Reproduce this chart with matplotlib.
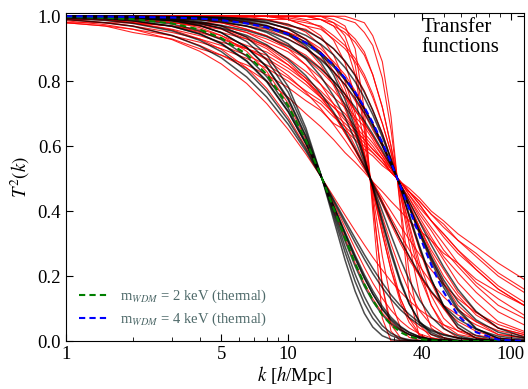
import numpy as np
import matplotlib
matplotlib.use('Agg')
import matplotlib.pyplot as plt

# 1. data: T^2(k), in units of 1/1000, on a common k grid [h/Mpc]
k_grid = [1, 1.5, 2, 3, 4, 5, 6.5, 8, 10, 12, 14, 16, 18, 20, 22, 24, 26.5, 29, 32, 35, 39, 44, 50, 58, 70, 88, 115]

wdm2 = [998, 995, 991, 978, 959, 933, 883, 821, 724, 618, 511, 409, 317, 239, 175, 126, 80, 50, 27, 14, 6, 2, 0, 0, 0, 0, 0]
wdm4 = [1000, 999, 998, 996, 993, 988, 978, 966, 945, 918, 886, 850, 810, 766, 720, 672, 611, 549, 476, 407, 323, 234, 151, 79, 27, 4, 0]

black_curves = [
    [990, 980, 969, 941, 908, 872, 813, 751, 667, 585, 507, 436, 372, 316, 266, 224, 179, 142, 108, 82, 56, 35, 20, 10, 3, 1, 0],
    [994, 987, 978, 955, 926, 891, 833, 769, 680, 592, 508, 431, 363, 303, 252, 208, 164, 129, 96, 72, 49, 31, 18, 9, 4, 1, 0],
    [996, 992, 986, 969, 945, 915, 861, 798, 705, 607, 509, 418, 336, 264, 204, 155, 107, 73, 45, 27, 13, 5, 2, 0, 0, 0, 0],
    [998, 995, 990, 976, 955, 928, 877, 814, 717, 613, 510, 413, 327, 253, 193, 145, 99, 67, 42, 26, 13, 6, 2, 1, 0, 0, 0],
    [999, 997, 995, 986, 971, 949, 905, 845, 747, 632, 512, 396, 291, 205, 137, 88, 47, 24, 10, 4, 1, 0, 0, 0, 0, 0, 0],
    [1000, 999, 997, 991, 979, 962, 922, 866, 766, 644, 513, 386, 274, 183, 116, 70, 35, 17, 6, 2, 1, 0, 0, 0, 0, 0, 0],
    [1000, 999, 998, 993, 984, 970, 935, 882, 783, 656, 514, 374, 250, 153, 85, 43, 16, 5, 1, 0, 0, 0, 0, 0, 0, 0, 0],
    [999, 998, 995, 986, 972, 950, 904, 843, 742, 628, 511, 402, 308, 230, 168, 122, 80, 53, 32, 20, 10, 5, 2, 1, 0, 0, 0],
    [997, 992, 986, 969, 946, 917, 863, 801, 707, 608, 510, 416, 331, 258, 196, 145, 97, 63, 36, 20, 8, 3, 1, 0, 0, 0, 0],
    [1000, 999, 998, 996, 991, 984, 970, 950, 915, 869, 815, 754, 688, 618, 548, 480, 399, 326, 250, 188, 126, 74, 38, 16, 4, 1, 0],
    [1000, 1000, 1000, 998, 996, 993, 985, 972, 946, 908, 859, 797, 725, 645, 560, 474, 371, 278, 185, 116, 57, 20, 5, 1, 0, 0, 0],
    [999, 997, 994, 987, 977, 964, 941, 912, 867, 817, 762, 705, 648, 591, 537, 485, 424, 369, 311, 261, 206, 153, 108, 68, 36, 15, 5],
    [1000, 1000, 1000, 999, 998, 996, 991, 982, 961, 928, 881, 819, 744, 657, 565, 472, 363, 268, 178, 114, 60, 26, 10, 3, 0, 0, 0],
    [1000, 999, 998, 996, 992, 987, 977, 963, 941, 914, 881, 844, 804, 760, 715, 667, 607, 547, 477, 411, 330, 244, 165, 93, 37, 8, 1],
    [1000, 1000, 999, 998, 997, 994, 988, 979, 963, 941, 914, 881, 842, 798, 749, 697, 628, 557, 472, 390, 292, 191, 106, 42, 8, 0, 0],
    [998, 997, 995, 989, 981, 972, 956, 937, 907, 874, 838, 800, 760, 719, 678, 637, 587, 538, 482, 429, 366, 296, 228, 159, 91, 40, 12],
    [1000, 1000, 1000, 999, 998, 997, 993, 987, 974, 956, 931, 900, 862, 817, 766, 711, 637, 561, 470, 385, 286, 189, 109, 51, 16, 3, 0],
    [999, 998, 997, 993, 988, 982, 969, 954, 929, 900, 866, 829, 789, 747, 703, 658, 601, 544, 478, 415, 338, 255, 175, 100, 39, 8, 0],
    [1000, 999, 999, 997, 994, 990, 981, 969, 947, 920, 888, 850, 808, 763, 716, 667, 606, 546, 478, 414, 339, 260, 188, 122, 65, 27, 9],
]

red_curves = [
    [986, 974, 960, 928, 892, 853, 793, 731, 651, 576, 507, 444, 388, 339, 296, 258, 218, 184, 151, 124, 96, 71, 50, 32, 18, 8, 3],
    [994, 988, 979, 958, 930, 898, 841, 778, 689, 597, 509, 426, 350, 284, 227, 179, 131, 95, 62, 40, 22, 10, 4, 1, 0, 0, 0],
    [999, 997, 993, 982, 965, 941, 892, 830, 731, 621, 511, 407, 316, 239, 177, 130, 86, 57, 34, 20, 10, 5, 2, 1, 0, 0, 0],
    [995, 990, 984, 970, 953, 933, 901, 866, 817, 766, 716, 666, 618, 572, 529, 488, 441, 399, 353, 313, 266, 219, 174, 130, 87, 51, 25],
    [998, 996, 994, 986, 975, 962, 937, 906, 860, 808, 753, 697, 641, 586, 534, 486, 430, 379, 326, 281, 230, 180, 136, 96, 59, 32, 15],
    [1000, 1000, 1000, 998, 996, 992, 983, 969, 942, 902, 850, 787, 715, 637, 556, 476, 383, 299, 217, 153, 93, 49, 23, 8, 2, 0, 0],
    [1000, 1000, 1000, 1000, 999, 998, 996, 990, 976, 951, 911, 853, 777, 684, 578, 466, 333, 218, 118, 57, 18, 4, 0, 0, 0, 0, 0],
    [1000, 1000, 1000, 1000, 1000, 1000, 1000, 999, 995, 986, 966, 926, 857, 752, 612, 451, 261, 124, 40, 11, 2, 0, 0, 0, 0, 0, 0],
    [1000, 1000, 1000, 1000, 1000, 1000, 1000, 1000, 1000, 1000, 990, 970, 920, 820, 650, 430, 170, 30, 0, 0, 0, 0, 0, 0, 0, 0, 0],
    [1000, 1000, 1000, 990, 990, 980, 960, 940, 900, 850, 790, 730, 660, 600, 540, 480, 420, 360, 300, 250, 200, 150, 110, 80, 50, 20, 10],
    [1000, 990, 990, 980, 970, 960, 930, 900, 850, 800, 750, 700, 640, 590, 540, 490, 430, 370, 310, 260, 200, 150, 100, 60, 30, 10, 0],
    [1000, 1000, 1000, 1000, 1000, 1000, 1000, 1000, 990, 970, 940, 880, 800, 700, 580, 460, 330, 220, 130, 70, 40, 20, 10, 0, 0, 0, 0],
    [1000, 1000, 1000, 1000, 1000, 1000, 1000, 1000, 1000, 1000, 1000, 980, 940, 850, 670, 430, 170, 50, 10, 0, 0, 0, 0, 0, 0, 0, 0],
    [1000, 1000, 1000, 1000, 1000, 1000, 990, 980, 960, 930, 890, 830, 760, 670, 570, 470, 350, 240, 130, 70, 20, 0, 0, 0, 0, 0, 0],
    [1000, 1000, 1000, 1000, 1000, 1000, 1000, 1000, 1000, 1000, 1000, 990, 970, 900, 710, 400, 70, 0, 0, 0, 0, 0, 0, 0, 0, 0, 0],
    [980, 970, 960, 940, 910, 880, 840, 800, 750, 700, 660, 620, 580, 550, 520, 490, 460, 430, 400, 370, 340, 310, 270, 240, 190, 150, 110],
    [980, 970, 950, 930, 900, 880, 850, 820, 780, 740, 710, 670, 650, 620, 590, 570, 540, 520, 490, 470, 440, 400, 370, 330, 290, 240, 190],
    [980, 980, 970, 940, 920, 900, 870, 840, 800, 760, 730, 690, 660, 630, 600, 580, 550, 520, 490, 460, 430, 390, 360, 310, 270, 210, 160],
    [990, 980, 970, 950, 930, 910, 880, 850, 810, 770, 740, 700, 670, 640, 610, 580, 550, 520, 490, 460, 430, 390, 350, 310, 260, 200, 150],
    [990, 990, 980, 970, 950, 930, 900, 880, 840, 800, 760, 720, 690, 650, 620, 590, 560, 520, 490, 460, 420, 370, 330, 280, 230, 170, 120],
    [990, 990, 980, 970, 960, 940, 910, 890, 850, 810, 770, 730, 700, 660, 630, 600, 560, 530, 490, 450, 410, 370, 320, 270, 220, 160, 110],
    [1000, 990, 990, 980, 970, 950, 930, 910, 870, 830, 790, 750, 720, 680, 640, 610, 570, 530, 490, 450, 400, 350, 300, 240, 180, 130, 80],
    [990, 980, 980, 960, 940, 920, 900, 870, 830, 790, 750, 720, 680, 650, 620, 590, 560, 520, 490, 460, 420, 370, 330, 280, 220, 160, 110],
    [1000, 1000, 990, 990, 980, 970, 950, 920, 890, 850, 810, 770, 730, 690, 660, 620, 570, 530, 480, 440, 390, 340, 280, 230, 170, 110, 70],
    [1000, 1000, 1000, 990, 980, 980, 960, 940, 910, 880, 840, 800, 760, 710, 670, 630, 580, 530, 480, 440, 380, 320, 260, 210, 150, 90, 50],
    [1000, 1000, 1000, 1000, 990, 980, 970, 960, 930, 900, 870, 830, 790, 740, 700, 650, 600, 540, 480, 420, 350, 280, 220, 150, 90, 40, 20],
    [1000, 1000, 1000, 1000, 990, 990, 980, 970, 950, 920, 890, 850, 810, 760, 710, 670, 600, 550, 480, 420, 350, 270, 200, 140, 80, 40, 20],
    [1000, 1000, 990, 990, 980, 970, 950, 930, 900, 870, 830, 790, 750, 710, 670, 630, 580, 540, 480, 430, 370, 310, 250, 180, 120, 60, 30],
    [1000, 1000, 1000, 1000, 1000, 990, 980, 970, 950, 930, 900, 860, 820, 770, 720, 670, 610, 550, 480, 410, 330, 250, 180, 110, 60, 20, 10],
    [1000, 1000, 1000, 1000, 1000, 1000, 990, 990, 970, 960, 930, 900, 860, 820, 770, 710, 640, 560, 470, 380, 280, 180, 100, 40, 10, 0, 0],
    [1000, 1000, 1000, 1000, 1000, 1000, 1000, 1000, 990, 980, 970, 940, 910, 870, 820, 760, 670, 580, 460, 360, 240, 140, 70, 30, 10, 0, 0],
    [1000, 1000, 1000, 1000, 1000, 1000, 1000, 1000, 1000, 990, 990, 970, 950, 920, 880, 820, 720, 600, 450, 300, 140, 40, 10, 0, 0, 0, 0],
    [1000, 1000, 1000, 1000, 1000, 1000, 1000, 1000, 1000, 1000, 990, 980, 960, 930, 890, 820, 720, 600, 450, 330, 200, 110, 50, 20, 10, 0, 0],
    [1000, 1000, 1000, 1000, 1000, 1000, 1000, 1000, 1000, 1000, 1000, 1000, 990, 980, 950, 910, 810, 650, 420, 210, 50, 10, 0, 0, 0, 0, 0],
    [1000, 1000, 1000, 1000, 1000, 1000, 1000, 990, 990, 970, 960, 930, 900, 860, 810, 750, 670, 580, 460, 350, 220, 110, 40, 10, 0, 0, 0],
    [1000, 1000, 1000, 1000, 1000, 1000, 1000, 1000, 1000, 1000, 1000, 1000, 1000, 990, 980, 940, 860, 690, 400, 140, 10, 0, 0, 0, 0, 0, 0],
]

# 2. fonts
plt.rcParams['font.family'] = 'Liberation Serif'
plt.rcParams['mathtext.fontset'] = 'stix'

# 3. figure
fig = plt.figure(figsize=(5.28, 3.89), dpi=100)
ax = fig.add_axes([66 / 528, 48 / 389, 458 / 528, 328 / 389])

for c in red_curves:
    ax.plot(k_grid, np.array(c) / 1000, color='red', lw=0.8, alpha=0.85)
for c in black_curves:
    ax.plot(k_grid, np.array(c) / 1000, color='black', lw=1.1, alpha=0.7)
ax.plot(k_grid, np.array(wdm2) / 1000, color='green', lw=1.5, ls=(0, (3, 2)), label='m$_{WDM}$ = 2 keV (thermal)')
ax.plot(k_grid, np.array(wdm4) / 1000, color='blue', lw=1.5, ls=(0, (3, 2)), label='m$_{WDM}$ = 4 keV (thermal)')

# 4. axes
ax.set_xscale('log')
ax.set_xlim(1, 115)
ax.set_ylim(0, 1.01)
ax.set_xticks([1, 5, 10, 40, 100])
ax.set_xticklabels(['1', '5', '10', '40', '100'])
ax.set_yticks([0, 0.2, 0.4, 0.6, 0.8, 1.0])
ax.tick_params(which='both', direction='in', top=True, right=True, labelsize=13.5)
ax.tick_params(which='major', length=5)
ax.tick_params(which='minor', length=3)
ax.set_xlabel(r'$k$ [$h$/Mpc]', fontsize=13.5, labelpad=1)
ax.set_ylabel(r'$T^2(k)$', fontsize=13.5)

ax.text(0.777, 0.985, 'Transfer\nfunctions', transform=ax.transAxes, ha='left', va='top',
        fontsize=15, linespacing=1.05)
ax.legend(loc='lower left', frameon=False, fontsize=10.5, labelcolor='#4f6a6a',
          handlelength=2.0, labelspacing=0.35)

fig.savefig('out.png', dpi=100)
